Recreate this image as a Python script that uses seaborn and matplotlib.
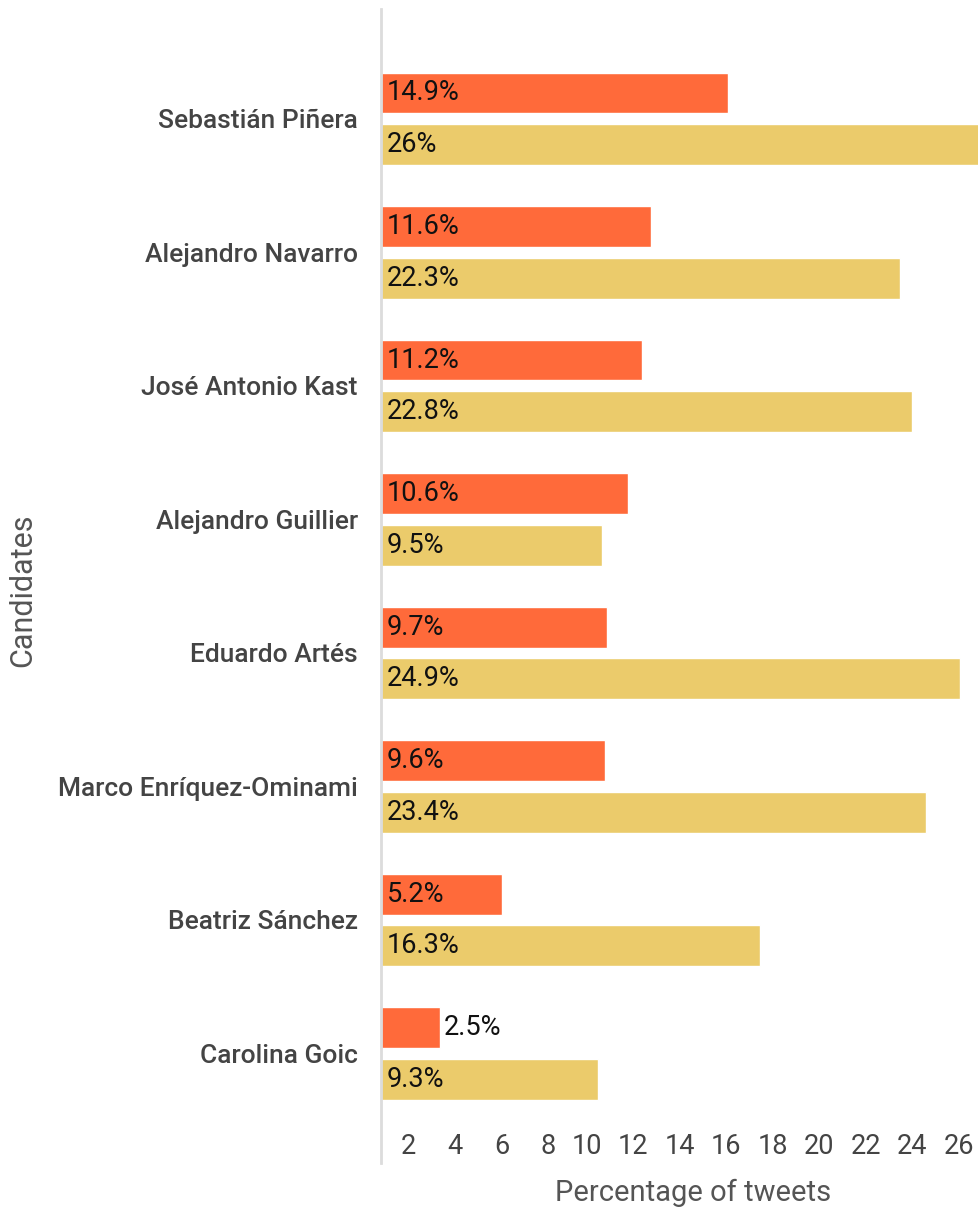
import matplotlib
matplotlib.use("Agg")
import matplotlib.pyplot as plt
import seaborn as sns
import pandas as pd

candidates = ["Sebastián Piñera", "Alejandro Navarro", "José Antonio Kast",
              "Alejandro Guillier", "Eduardo Artés", "Marco Enríquez-Ominami",
              "Beatriz Sánchez", "Carolina Goic"]
series_a = [14.9, 11.6, 11.2, 10.6, 9.7, 9.6, 5.2, 2.5]
series_b = [26.0, 22.3, 22.8, 9.5, 24.9, 23.4, 16.3, 9.3]
series_names = ["Series A", "Series B"]
tick_values = [2, 4, 6, 8, 10, 12, 14, 16, 18, 20, 22, 24, 26]

colors = ["#FF6A3A", "#EBCB6B"]

rows = []
for c, a, b in zip(candidates, series_a, series_b):
    rows.append({"Candidates": c, "series": series_names[0], "value": a})
    rows.append({"Candidates": c, "series": series_names[1], "value": b})
df = pd.DataFrame(rows)

sns.set_theme(style="white")
plt.rcParams["font.family"] = ["Roboto", "DejaVu Sans"]

W, H = 979, 1211
fig = plt.figure(figsize=(W / 100, H / 100), dpi=100)
px = 23.25
xmax = 27
left_px, top_px, bot_px = 381.5, 9, 1163
ax = fig.add_axes([left_px / W, 1 - bot_px / H, xmax * px / W, (bot_px - top_px) / H])

sns.barplot(data=df, y="Candidates", x="value", hue="series", order=candidates,
            hue_order=series_names, palette=colors, orient="h", width=0.776,
            gap=0.21, saturation=1, legend=False, ax=ax, errorbar=None)

ax.set_xlim(0, xmax)
ax.set_ylim(7.82, -0.823)

for sp in ["top", "right", "bottom"]:
    ax.spines[sp].set_visible(False)
ax.spines["left"].set_color("#dcdcdc")
ax.spines["left"].set_linewidth(2)

# bar value labels
for container in ax.containers:
    for bar in container:
        v = bar.get_width()
        yc = bar.get_y() + bar.get_height() / 2
        label = f"{v:g}%"
        if v < 4:
            ax.annotate(label, (v, yc), xytext=(4, 0), textcoords="offset pixels",
                        ha="left", va="center", fontsize=19.5, color="#111111")
        else:
            ax.annotate(label, (0, yc), xytext=(5, 0), textcoords="offset pixels",
                        ha="left", va="center", fontsize=19.5, color="#111111")

# x tick labels (right-aligned, sitting inside the axes area)
ax.set_xticks([])
xtrans = ax.get_xaxis_transform()
for t in tick_values:
    ax.annotate(str(t), (t, 0), xycoords=xtrans, xytext=(-12, 16),
                textcoords="offset pixels", ha="right", va="center",
                fontsize=19.5, color="#444444", annotation_clip=False)

ax.tick_params(axis="y", length=0, pad=17)
for lbl in ax.get_yticklabels():
    lbl.set_fontsize(19)
    lbl.set_color("#444444")
    lbl.set_fontweight("medium")

ax.set_ylabel("")
ax.set_xlabel("")
fig.text(693 / W, 1 - 1193 / H, "Percentage of tweets", ha="center", va="center",
         fontsize=21, color="#555555")
fig.text(23 / W, 1 - 590 / H, "Candidates", ha="center", va="center",
         rotation=90, fontsize=22, color="#555555")

fig.savefig("out.png", dpi=100)
